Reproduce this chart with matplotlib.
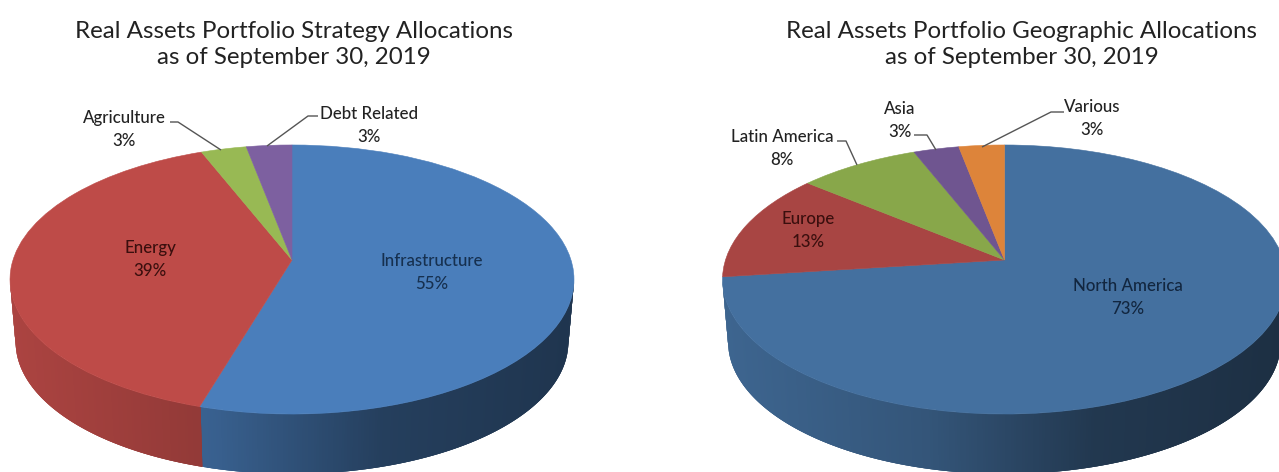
import numpy as np
import matplotlib
matplotlib.use("Agg")
import matplotlib.pyplot as plt
from matplotlib.collections import PolyCollection
from matplotlib.colors import to_rgb
from matplotlib.transforms import Transform

# ---- data ----
strategy_labels = ["Infrastructure", "Energy", "Agriculture", "Debt Related"]
strategy_values = [54.6, 39.4, 3, 3]
strategy_colors = ["#4a7ebb", "#be4b48", "#98b954", "#7d60a0"]

geo_labels = ["North America", "Europe", "Latin America", "Asia", "Various"]
geo_values = [73, 13, 8, 3, 3]
geo_colors = ["#44709f", "#a84543", "#88a74a", "#6f5590", "#dd843a"]

titles = ["Real Assets Portfolio Strategy Allocations\nas of September 30, 2019",
          "Real Assets Portfolio Geographic Allocations\nas of September 30, 2019"]

# ---- layout (pixels) ----
W, H = 1279, 472
APEX_Y, TILT, K_Y, K_X = 260, 0.145, 131.7, 279
DEPTH, BOTTOM_SCALE = 63, 0.98
FONT = "Lato"


class Perspective(Transform):
    """Maps the unit-circle pie plane to the tilted disc on the page."""
    input_dims = output_dims = 2
    is_separable = False
    has_inverse = False

    def __init__(self, cx, cy, scale=1.0):
        super().__init__()
        self.cx, self.cy, self.scale = cx, cy, scale

    def transform_non_affine(self, xy):
        xy = np.asarray(xy, float)
        d = 1 + TILT * xy[:, 1]
        return np.column_stack([self.cx + self.scale * K_X * xy[:, 0] / d,
                                self.cy - self.scale * K_Y * xy[:, 1] / d])


def wall_factor(u):
    return np.interp(u, [-1, -0.3, 0.3, 1], [0.9, 0.76, 0.5, 0.42])


def draw_pie(ax, values, colors, cx):
    wedges, _ = ax.pie(values, colors=colors, startangle=90, counterclock=False,
                       wedgeprops=dict(linewidth=0))
    top = Perspective(cx, APEX_Y)
    bottom = Perspective(cx, APEX_Y + DEPTH, BOTTOM_SCALE)
    for wedge, color in zip(wedges, colors):
        wedge.set_transform(top + ax.transData)
        wedge.set_edgecolor(color)
        wedge.set_linewidth(0.4)
        wedge.set_zorder(3)
        ang = np.radians(np.arange(wedge.theta1, wedge.theta2 + 0.5, 0.5))
        ang = ang[np.sin(ang) < -TILT + 0.005]
        if len(ang) < 3:
            continue
        unit = np.column_stack([np.cos(ang), np.sin(ang)])
        t, b = top.transform(unit), bottom.transform(unit)
        # each strip overlaps the next one so that no seams show
        quads = [[t[i], t[min(i + 3, len(t) - 1)], b[min(i + 3, len(t) - 1)], b[i]]
                 for i in range(len(ang) - 1)]
        u = (t[:-1, 0] - cx) / K_X
        base = np.array(to_rgb(color))
        cols = [tuple(base * wall_factor(v)) for v in u]
        # front-to-back order does not matter: overlap runs in drawing order
        ax.add_collection(PolyCollection(quads[::-1], facecolors=cols[::-1],
                                         edgecolors="none", linewidths=0, zorder=2))


fig = plt.figure(figsize=(W / 100, H / 100), dpi=100, facecolor="white")
ax = fig.add_axes([0, 0, 1, 1])

draw_pie(ax, strategy_values, strategy_colors, 292)
draw_pie(ax, geo_values, geo_colors, 1004.5)

ax.set_aspect("auto")
ax.set_xlim(0, W)
ax.set_ylim(H, 0)
ax.axis("off")

# titles
for txt, x in zip(titles, [294, 1022]):
    l1, l2 = txt.split("\n")
    ax.text(x, 31.5, l1, ha="center", va="center", fontsize=17.4, family=FONT, color="#222222")
    ax.text(x, 58, l2, ha="center", va="center", fontsize=17.4, family=FONT, color="#222222")

# labels
strategy_pos = [(432, 261, "#16304f"), (150, 248, "#3a0f0e"), (124, 118, "#222222"), (369, 114, "#222222")]
geo_pos = [(1128, 286, "#12263f"), (808, 219, "#3a0f0e"), (782, 137, "#222222"),
           (900, 109, "#222222"), (1092, 107, "#222222")]
for labels, values, pos in [(strategy_labels, strategy_values, strategy_pos),
                            (geo_labels, geo_values, geo_pos)]:
    for lab, v, (x, y, c) in zip(labels, values, pos):
        ax.text(x, y, lab, ha="center", va="center", fontsize=12.2, family=FONT,
                weight=500, color=c, zorder=5)
        ax.text(x, y + 23, f"{round(v)}%", ha="center", va="center", fontsize=12.2,
                family=FONT, weight=500, color=c, zorder=5)

# leader lines
leaders = [([170, 178, 221], [122, 122, 150]),
           ([318, 308, 267], [116, 116, 146]),
           ([837, 846, 857], [141, 141, 165]),
           ([914, 927, 936], [135, 135, 150]),
           ([1064, 1051, 982], [112, 112, 147])]
for xs, ys in leaders:
    ax.plot(xs, ys, color="#555555", lw=1.0, zorder=4, solid_capstyle="butt")

fig.savefig("out.png", dpi=100, facecolor="white")
